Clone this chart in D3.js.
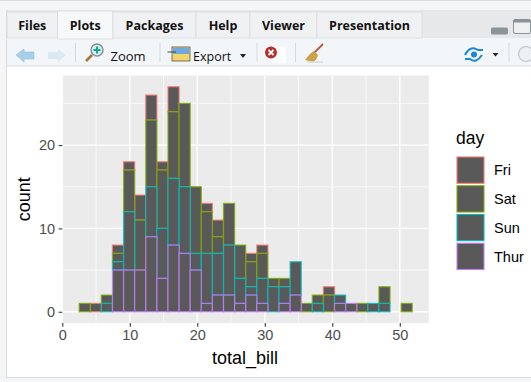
<!DOCTYPE html>
<html>
<head>
<meta charset="utf-8">
<script src="https://cdn.jsdelivr.net/npm/d3@7"></script>
<style>
  html, body { margin: 0; padding: 0; background: #f3f5f7; overflow: hidden; }
  svg { display: block; }
  .plot-text { font-family: "Liberation Sans", Arial, sans-serif; }
  .ui-text { font-family: "Open Sans", sans-serif; fill: #111; }
</style>
</head>
<body>
<div id="chart"></div>
<script>
// DATA (counts per bin)
const days = ["Fri", "Sat", "Sun", "Thur"];
const binStart = 2.5;
const binWidth = 1.645;
const fri  = [0,1,0,1,1,3,3,1,3,0,0,1,2,0,0,1,1,0,0,0,0,0,1,0,0,0,0,0,0,0];
const sat  = [1,0,1,1,5,6,8,7,8,10,8,5,2,5,4,3,3,1,1,0,1,1,2,0,0,1,0,2,0,1];
const sun  = [0,0,1,1,7,0,6,6,8,8,2,6,5,6,3,1,3,3,2,4,0,1,0,1,0,0,1,1,0,0];
const thur = [0,0,0,5,5,5,9,4,8,7,5,1,2,2,1,2,1,0,1,2,0,0,0,1,1,0,0,0,0,0];
const xTicks = [0, 10, 20, 30, 40, 50];
const xMinor = [5, 15, 25, 35, 45];
const yTicks = [0, 10, 20];
const yMinor = [5, 15, 25];
const dayColors = ["#F8766D", "#7CAE00", "#00BFC4", "#C77CFF"];
const tabs = ["Files", "Plots", "Packages", "Help", "Viewer", "Presentation"];
const tabEdges = [7, 57.5, 113, 196, 250, 317, 422];

const width = 531;
const height = 382;
const panel = {left: 62.3, right: 428.8, top: 75.5, bottom: 323};

const svg = d3.select("#chart").append("svg")
  .attr("width", width)
  .attr("height", height);

// WINDOW FRAME
const chrome = svg.append("g").attr("id", "rstudio-chrome");
chrome.append("rect").attr("width", width).attr("height", height).attr("fill", "#f3f5f7");
chrome.append("rect").attr("width", width).attr("height", 1).attr("fill", "#dcdfe2");
chrome.append("rect").attr("x", 7).attr("y", 10).attr("width", width).attr("height", 28).attr("fill", "#e6e8ea");
chrome.append("rect").attr("x", 7).attr("y", 38).attr("width", width).attr("height", 28).attr("fill", "#f3f6f8");
chrome.append("rect").attr("x", 7).attr("y", 66).attr("width", width).attr("height", 311).attr("fill", "#fff");
chrome.append("rect").attr("x", 6).attr("y", 10).attr("width", 1).attr("height", 368).attr("fill", "#d8dbde");
chrome.append("rect").attr("x", 7).attr("y", 377).attr("width", width).attr("height", 1).attr("fill", "#d8dbde");
chrome.append("rect").attr("x", 7).attr("y", 65.5).attr("width", width).attr("height", 1).attr("fill", "#d9dcdf");

// tabs
tabs.forEach((t, i) => {
  const active = t === "Plots";
  chrome.append("rect")
    .attr("x", tabEdges[i]).attr("y", active ? 11 : 12)
    .attr("width", tabEdges[i + 1] - tabEdges[i])
    .attr("height", active ? 28 : 26)
    .attr("fill", active ? "#f6f8fa" : "#f0f1f3")
    .attr("stroke", "#d8dbde").attr("stroke-width", 0.8);
  chrome.append("text").attr("class", "ui-text")
    .attr("x", (tabEdges[i] + tabEdges[i + 1]) / 2).attr("y", 30)
    .attr("text-anchor", "middle")
    .attr("font-size", 12.5).attr("font-weight", 700)
    .text(t);
});

// window buttons
chrome.append("rect").attr("x", 491).attr("y", 27.5).attr("width", 17).attr("height", 7).attr("rx", 1.5)
  .attr("fill", "#8b9499");
chrome.append("rect").attr("x", 513.5).attr("y", 19.5).attr("width", 17).attr("height", 14).attr("rx", 1.5)
  .attr("fill", "#eef0f2").attr("stroke", "#8b9499").attr("stroke-width", 1);
chrome.append("rect").attr("x", 513.5).attr("y", 19.5).attr("width", 17).attr("height", 3)
  .attr("fill", "#8b9499");

// toolbar separators
[75, 159.5, 256.5, 295, 508.5].forEach(x => {
  chrome.append("rect").attr("x", x).attr("y", 43).attr("width", 1).attr("height", 19).attr("fill", "#d5d9dc");
});

// back and forward arrows
chrome.append("path").attr("d", "M16 55 L24 49 V52 H34 V59 H24 V62 Z").attr("fill", "#a9cfe8").attr("stroke", "#8fbfdf").attr("stroke-width", 0.6);
chrome.append("path").attr("d", "M66 55 L58 49 V52 H48 V59 H58 V62 Z").attr("fill", "#dbe9f3");

// zoom icon
chrome.append("line").attr("x1", 86).attr("y1", 61).attr("x2", 92).attr("y2", 55).attr("stroke", "#a5763a").attr("stroke-width", 2.6);
chrome.append("circle").attr("cx", 97).attr("cy", 50).attr("r", 6).attr("fill", "#d8eef0").attr("stroke", "#7d8f99").attr("stroke-width", 1.4);
chrome.append("path").attr("d", "M97 46.5 V53.5 M93.5 50 H100.5").attr("stroke", "#16a88f").attr("stroke-width", 2);
chrome.append("text").attr("class", "ui-text").attr("x", 110.5).attr("y", 61).attr("font-size", 13).text("Zoom");

// export icon
chrome.append("rect").attr("x", 172).attr("y", 47).attr("width", 18).attr("height", 14).attr("fill", "#f4d36b").attr("stroke", "#555").attr("stroke-width", 0.8);
chrome.append("rect").attr("x", 173).attr("y", 48).attr("width", 16).attr("height", 6).attr("fill", "#6ea9e0");
chrome.append("path").attr("d", "M167.5 52 H176").attr("stroke", "#444").attr("stroke-width", 1);
chrome.append("text").attr("class", "ui-text").attr("x", 193).attr("y", 61).attr("font-size", 12.5).text("Export");
chrome.append("path").attr("d", "M240 54 H246 L243 58 Z").attr("fill", "#222");

// remove plot icon
chrome.append("rect").attr("x", 271.5).attr("y", 47).attr("width", 14.5).attr("height", 16).attr("fill", "#fff");
chrome.append("circle").attr("cx", 271).attr("cy", 52.5).attr("r", 6).attr("fill", "#b5302c");
chrome.append("path").attr("d", "M268.5 50 L273.5 55 M273.5 50 L268.5 55").attr("stroke", "#fff").attr("stroke-width", 1.8);

// broom icon
chrome.append("line").attr("x1", 314).attr("y1", 53).attr("x2", 323).attr("y2", 44).attr("stroke", "#b5564a").attr("stroke-width", 1.8);
chrome.append("path").attr("d", "M305 60 Q311 52 314 51 L318 55 Q317 60 313 62 Z").attr("fill", "#c9a24a");
chrome.append("path").attr("d", "M307 62 H323").attr("stroke", "#d8dadb").attr("stroke-width", 1.5);

// publish icon and refresh
chrome.append("circle").attr("cx", 474).attr("cy", 54.5).attr("r", 3).attr("fill", "#1b87d6");
chrome.append("path").attr("d", "M465 55 Q470 45 478 50 L483 50 M465 59 L470 59 Q476 64 482 55").attr("fill", "none").attr("stroke", "#1b87d6").attr("stroke-width", 2);
chrome.append("path").attr("d", "M492.5 53 H498.5 L495.5 56.5 Z").attr("fill", "#222");
chrome.append("circle").attr("cx", 526).attr("cy", 54).attr("r", 7.5).attr("fill", "#eef1f4").attr("stroke", "#c9ced3").attr("stroke-width", 1.5);

// SCALES
const xScale = d3.scaleLinear().domain([0, 54.3]).range([panel.left, panel.right]);
const yScale = d3.scaleLinear().domain([-1.35, 28.35]).range([panel.bottom, panel.top]);

// STACK (Thur sits at the bottom, Fri on top)
const binRows = thur.map((_, i) => ({
  x0: binStart + i * binWidth,
  x1: binStart + (i + 1) * binWidth,
  Fri: fri[i], Sat: sat[i], Sun: sun[i], Thur: thur[i]
}));
const stacked = d3.stack().keys(days.slice().reverse())(binRows);
const colorScale = d3.scaleOrdinal().domain(days).range(dayColors);

// PANEL
const chart = svg.append("g").attr("id", "plot");
chart.append("rect")
  .attr("x", panel.left).attr("y", panel.top)
  .attr("width", panel.right - panel.left).attr("height", panel.bottom - panel.top)
  .attr("fill", "#EBEBEB");

const grid = chart.append("g").attr("stroke", "#fff").attr("fill", "none");
grid.selectAll(".x-minor").data(xMinor).join("line").attr("class", "x-minor")
  .attr("x1", xScale).attr("x2", xScale)
  .attr("y1", panel.top).attr("y2", panel.bottom).attr("stroke-width", 0.7);
grid.selectAll(".y-minor").data(yMinor).join("line").attr("class", "y-minor")
  .attr("y1", yScale).attr("y2", yScale)
  .attr("x1", panel.left).attr("x2", panel.right).attr("stroke-width", 0.7);
grid.selectAll(".x-major").data(xTicks).join("line").attr("class", "x-major")
  .attr("x1", xScale).attr("x2", xScale)
  .attr("y1", panel.top).attr("y2", panel.bottom).attr("stroke-width", 1.4);
grid.selectAll(".y-major").data(yTicks).join("line").attr("class", "y-major")
  .attr("y1", yScale).attr("y2", yScale)
  .attr("x1", panel.left).attr("x2", panel.right).attr("stroke-width", 1.4);

// BARS (Fri layer first so Thur outlines end up on top, as ggplot draws them)
stacked.slice().reverse().forEach(layer => {
  chart.append("g")
    .attr("class", `layer-${layer.key}`)
    .selectAll("rect")
    .data(layer)
    .join("rect")
      .attr("x", d => xScale(d.data.x0))
      .attr("width", d => xScale(d.data.x1) - xScale(d.data.x0))
      .attr("y", d => yScale(d[1]))
      .attr("height", d => yScale(d[0]) - yScale(d[1]))
      .attr("fill", "#595959")
      .attr("stroke", colorScale(layer.key))
      .attr("stroke-opacity", 0.8)
      .attr("stroke-width", 1.25);
});

// AXES
const xAxis = d3.axisBottom(xScale).tickValues(xTicks).tickSize(3.7).tickPadding(3.5).tickSizeOuter(0);
const yAxis = d3.axisLeft(yScale).tickValues(yTicks).tickSize(3.7).tickPadding(3.5).tickSizeOuter(0);

const gx = chart.append("g").attr("transform", `translate(0, ${panel.bottom})`).call(xAxis);
const gy = chart.append("g").attr("transform", `translate(${panel.left}, 0)`).call(yAxis);
[gx, gy].forEach(g => {
  g.select(".domain").remove();
  g.selectAll("line").attr("stroke", "#333").attr("stroke-width", 1.07);
  g.selectAll("text")
    .attr("class", "plot-text")
    .attr("fill", "#4D4D4D")
    .attr("font-size", 14.5)
    .attr("font-family", '"Liberation Sans", Arial, sans-serif');
});

chart.append("text").attr("class", "plot-text")
  .attr("x", (panel.left + panel.right) / 2 - 0.5).attr("y", 364)
  .attr("text-anchor", "middle").attr("font-size", 18).attr("fill", "#000")
  .text("total_bill");
chart.append("text").attr("class", "plot-text")
  .attr("transform", `translate(30, ${(panel.top + panel.bottom) / 2}) rotate(-90)`)
  .attr("text-anchor", "middle").attr("font-size", 18).attr("fill", "#000")
  .text("count");

// LEGEND
const legendScale = d3.scaleBand().domain(days).range([156, 271]);
const legend = chart.append("g").attr("id", "legend");
legend.append("text").attr("class", "plot-text")
  .attr("x", 456).attr("y", 144).attr("font-size", 17.5).attr("fill", "#000")
  .text("day");
const legendKeys = legend.selectAll(".key").data(days).join("g").attr("class", "key")
  .attr("transform", d => `translate(456, ${legendScale(d)})`);
legendKeys.append("rect")
  .attr("x", 1).attr("y", 1)
  .attr("width", 27).attr("height", legendScale.bandwidth() - 2.5)
  .attr("fill", "#595959")
  .attr("stroke", d => colorScale(d))
  .attr("stroke-width", 1.07);
legendKeys.append("text").attr("class", "plot-text")
  .attr("x", 38).attr("y", legendScale.bandwidth() / 2)
  .attr("dy", "0.35em").attr("font-size", 14.5).attr("fill", "#000")
  .text(d => d);
</script>
</body>
</html>
